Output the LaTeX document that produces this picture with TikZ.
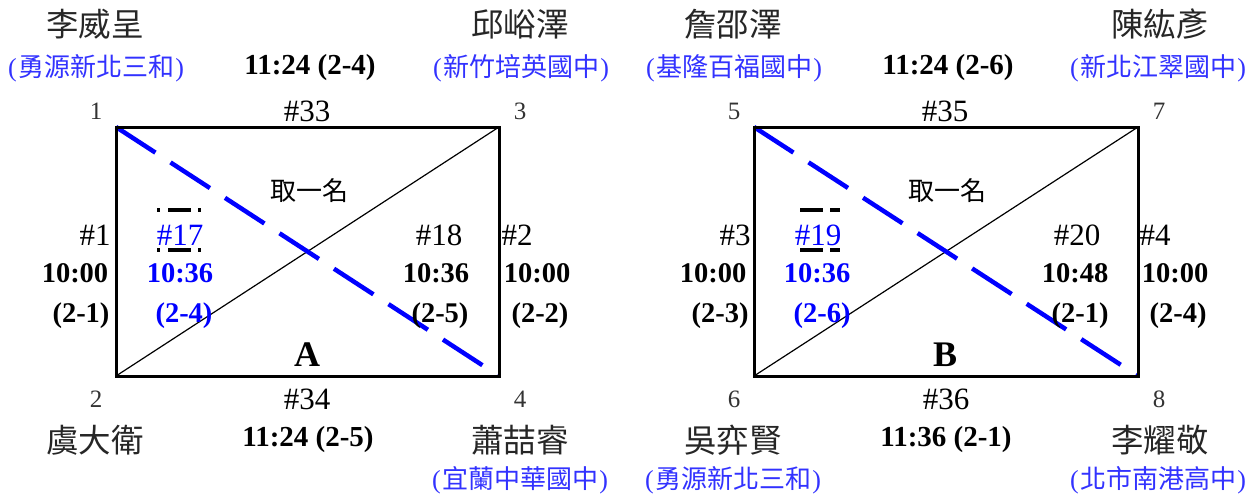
\documentclass[tikz,border=0pt]{standalone}
\usepackage{fontspec}
\setmainfont{Liberation Serif}
\newfontfamily\cjk{Noto Sans CJK TC}
\definecolor{pblue}{RGB}{0,0,255}
\definecolor{sblue}{RGB}{50,50,255}
\newcommand{\sch}[1]{(\hspace{0.05em}{\cjk #1}\hspace{0.05em})}
\tikzset{
  nm/.style={inner sep=0pt, font=\cjk\fontsize{32.5}{32}\selectfont, text=black!85},
  sc/.style={inner sep=0pt, font=\fontsize{26}{26}\selectfont, text=sblue},
  tm/.style={inner sep=0pt, font=\bfseries\fontsize{29}{29}\selectfont},
  cn/.style={inner sep=0pt, font=\fontsize{25}{25}\selectfont, text=black!80},
  hs/.style={inner sep=0pt, font=\fontsize{31}{31}\selectfont},
  bl/.style={inner sep=0pt, font=\bfseries\fontsize{28.5}{28}\selectfont},
  cj/.style={inner sep=0pt, font=\cjk\fontsize{26}{26}\selectfont},
  frame/.style={line width=3pt},
  thin/.style={line width=1.2pt},
  bdash/.style={pblue, line width=4.5pt, dash pattern=on 47pt off 18pt},
  bbar/.style={line width=4pt}
}
\begin{document}
\begin{tikzpicture}[x=1pt,y=-1pt]
\useasboundingbox (0,0) rectangle (1248,493);
% ---------------- Group A ----------------
\coordinate (A1) at (116,127);
\coordinate (A3) at (499,127);
\coordinate (A2) at (116,376);
\coordinate (A4) at (499,376);
\draw[thin] (A2) -- (A3);
\draw[bdash] (A1) -- (A4);
\draw[frame] (A1) rectangle (A4);
\node[nm] (an1) at (95,24) {李威呈};
\node[sc] (as1) at (96,68) {\sch{勇源新北三和}};
\node[tm] (at1) at (310,68) {11:24 (2-4)};
\node[nm] (an3) at (520,24) {邱峪澤};
\node[sc] (as3) at (521,68) {\sch{新竹培英國中}};
\node[cn] (ac1) at (96,111) {1};
\node[hs] (ah33) at (307,111) {\#33};
\node[cn] (ac3) at (520,111) {3};
\node[cj] (aq) at (309,191) {取一名};
\node[hs] (ah1) at (95,235) {\#1};
\node[bl] (ab1) at (75,273) {10:00};
\node[bl] (ap1) at (81,316) {(2-1)};
\node[hs, text=pblue] (ah17) at (180,235) {\#17};
\node[bl, text=pblue] (ab17) at (180,273) {10:36};
\node[bl, text=pblue] (ap17) at (184,316) {(2-4)};
\draw[bbar, dash pattern=on 3pt off 8pt on 23pt off 7pt on 3pt] (157,210) -- (201,210);
\draw[bbar, dash pattern=on 3pt off 8pt on 23pt off 7pt on 3pt] (157,250) -- (201,250);
\node[hs] (ah18) at (439,235) {\#18};
\node[bl] (ab18) at (436,273) {10:36};
\node[bl] (ap18) at (440,316) {(2-5)};
\node[hs] (ah2) at (517,235) {\#2};
\node[bl] (ab2) at (537,273) {10:00};
\node[bl] (ap2) at (540,316) {(2-2)};
\node[inner sep=0pt, font=\bfseries\fontsize{36}{36}\selectfont] (aA) at (307,355) {A};
\node[cn] (ac2) at (96,399) {2};
\node[hs] (ah34) at (307,399) {\#34};
\node[cn] (ac4) at (520,399) {4};
\node[nm] (an2) at (95,440) {虞大衛};
\node[tm] (at2) at (308,440) {11:24 (2-5)};
\node[nm] (an4) at (520,440) {蕭喆睿};
\node[sc] (as4) at (520,480) {\sch{宜蘭中華國中}};
% ---------------- Group B ----------------
\coordinate (B5) at (754,127);
\coordinate (B7) at (1138,127);
\coordinate (B6) at (754,376);
\coordinate (B8) at (1138,376);
\draw[thin] (B6) -- (B7);
\draw[bdash] (B5) -- (B8);
\draw[frame] (B5) rectangle (B8);
\node[nm] (bn5) at (733,24) {詹邵澤};
\node[sc] (bs5) at (734,68) {\sch{基隆百福國中}};
\node[tm] (bt1) at (948,68) {11:24 (2-6)};
\node[nm] (bn7) at (1160,24) {陳紘彥};
\node[sc] (bs7) at (1158,68) {\sch{新北江翠國中}};
\node[cn] (bc5) at (734,111) {5};
\node[hs] (bh35) at (945,111) {\#35};
\node[cn] (bc7) at (1159,111) {7};
\node[cj] (bq) at (947,191) {取一名};
\node[hs] (bh3) at (735,235) {\#3};
\node[bl] (bb3) at (713,273) {10:00};
\node[bl] (bp3) at (720,316) {(2-3)};
\node[hs, text=pblue] (bh19) at (818,235) {\#19};
\node[bl, text=pblue] (bb19) at (817,273) {10:36};
\node[bl, text=pblue] (bp19) at (822,316) {(2-6)};
\draw[bbar, dash pattern=on 23pt off 7pt on 10pt] (800,210) -- (840,210);
\draw[bbar, dash pattern=on 23pt off 7pt on 10pt] (800,250) -- (840,250);
\node[hs] (bh20) at (1077,235) {\#20};
\node[bl] (bb20) at (1075,273) {10:48};
\node[bl] (bp20) at (1080,316) {(2-1)};
\node[hs] (bh4) at (1155,235) {\#4};
\node[bl] (bb4) at (1175,273) {10:00};
\node[bl] (bp4) at (1178,316) {(2-4)};
\node[inner sep=0pt, font=\bfseries\fontsize{36}{36}\selectfont] (bB) at (945,355) {B};
\node[cn] (bc6) at (734,399) {6};
\node[hs] (bh36) at (946,399) {\#36};
\node[cn] (bc8) at (1159,399) {8};
\node[nm] (bn6) at (733,440) {吳弈賢};
\node[tm] (bt2) at (946,440) {11:36 (2-1)};
\node[nm] (bn8) at (1160,440) {李耀敬};
\node[sc] (bs6) at (733,480) {\sch{勇源新北三和}};
\node[sc] (bs8) at (1158,480) {\sch{北市南港高中}};
\end{tikzpicture}
\end{document}
